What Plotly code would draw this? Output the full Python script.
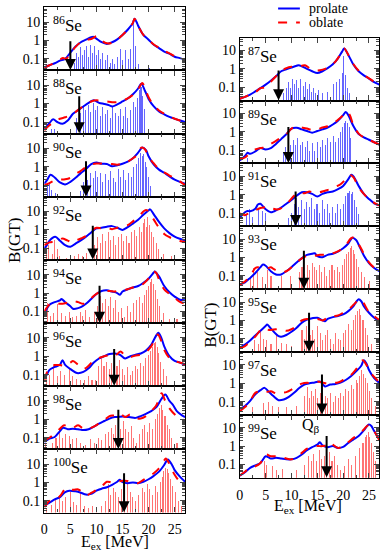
import math
import plotly.graph_objects as go

W, H = 382, 552          # browser window == figure size (page margin removed below)
SERIF = "Liberation Serif, Times New Roman, serif"

# ---------------- data ----------------
LEFT_NUCLEI = [86, 88, 90, 92, 94, 96, 98, 100]
RIGHT_NUCLEI = [87, 89, 91, 93, 95, 97, 99]

# Q_beta energy (MeV) and arrow top (B(GT)) per nucleus
QBETA_E = {86: 5.0, 88: 6.7, 90: 8.0, 92: 9.3, 94: 10.6, 96: 13.4, 98: 14.2, 100: 15.3,
           87: 7.5, 89: 9.4, 91: 10.8, 93: 12.4, 95: 13.4, 97: 15.9, 99: 16.8}
QBETA_TOP = {86: 1.1, 88: 3.0, 90: 2.4, 92: 2.0, 94: 3.0, 96: 3.0, 98: 4.0, 100: 3.8,
             87: 1.0, 89: 2.2, 91: 1.8, 93: 2.8, 95: 3.1, 97: 3.6, 99: 4.3}

PRO_86 = [(0,0.034),(1,0.045),(2,0.058),(3,0.08),(4,0.1),(5,0.22),(6,0.47),(7,0.8),(8,1.1),(9,1.5),(9.5,1.55),(10,1.25),(11,0.8),(12,0.65),(13,0.8),(14,1.15),(15,2.0),(16,3.8),(17,9),(17.3,15),(17.7,10),(18,6.3),(19,2.0),(20,1.1),(21,0.58),(22,0.38),(23,0.25),(24,0.19),(25,0.13),(26,0.11),(27,0.09)]
OBL_86 = [(0,0.034),(1,0.045),(2,0.06),(3,0.09),(3.6,0.11),(4.2,0.1),(5,0.2),(6,0.45),(7,0.8),(8,1.05),(9,1.2),(10,1.7),(10.4,1.6),(11,1.0),(12,0.7),(13,0.75),(14,1.1),(15,2.0),(16,3.8),(17,9),(17.3,15),(17.7,10),(18,6.3),(19,2.0),(20,1.1),(21,0.6),(22,0.4),(23,0.27),(24,0.2),(25,0.14),(26,0.11),(27,0.09)]
SPK_86 = [(5.8,0.06),(6.2,0.2),(6.6,0.12),(7.0,0.45),(7.4,0.15),(7.8,0.3),(8.2,0.5),(8.5,0.12),(8.9,0.55),(9.3,0.2),(9.7,0.5),(10.1,0.15),(10.5,0.3),(10.9,0.1),(11.3,0.2),(11.8,0.08),(12.2,0.15),(12.7,0.06),(13.2,0.1),(13.6,0.05),(14.1,0.12),(14.6,0.35),(15.1,0.08),(15.6,0.3),(16.2,0.1),(16.6,0.35),(17.2,10),(17.5,0.5),(18.2,0.05),(20.3,0.03)]

PRO_88 = [(0,0.039),(1,0.088),(1.7,0.14),(2.5,0.1),(3.5,0.08),(4.5,0.12),(5.5,0.28),(6.5,0.44),(7.5,0.7),(8.5,1.1),(9.5,1.5),(10.5,1.1),(11.5,0.95),(12.5,0.8),(13,0.7),(14,0.9),(15,1.3),(16,1.9),(17,3.2),(18,6.6),(18.6,12),(19.3,5),(20,1.8),(21,0.7),(22,0.38),(23,0.26),(24,0.19),(25,0.15),(26,0.12),(27,0.1)]
OBL_88 = [(0,0.036),(1,0.066),(2,0.11),(3,0.15),(4,0.18),(5,0.23),(6,0.35),(7,0.58),(8,0.95),(9,1.3),(10,1.5),(11,1.4),(12,1.3),(13,1.2),(14,1.2),(15,1.45),(16,1.9),(17,3),(18,6),(18.8,13),(19.4,6),(20,2.2),(21,0.8),(22,0.42),(23,0.28),(24,0.2),(25,0.15),(26,0.12),(27,0.1)]
SPK_88 = [(1.5,0.04),(2.0,0.04),(6.2,0.15),(7.0,0.3),(7.5,0.6),(8.0,0.4),(8.5,0.8),(9.0,0.35),(9.4,1.0),(9.9,0.4),(10.3,0.7),(10.8,0.2),(11.2,0.6),(11.7,0.25),(12.2,0.45),(12.7,0.15),(13.2,0.7),(13.7,0.3),(14.2,0.2),(14.7,0.5),(15.2,0.2),(15.6,0.6),(16.1,0.15),(16.6,0.4),(17.2,1.2),(17.6,0.6),(18.0,2),(18.3,5),(18.6,8),(18.9,2.5),(19.2,0.5)]

PRO_90 = [(0,0.12),(0.5,0.18),(1.2,0.37),(2,0.26),(3,0.14),(4,0.11),(5,0.15),(6,0.25),(7,0.45),(8,0.75),(9,1.4),(10,1.7),(11,1.45),(12,1.4),(13,1.05),(14,1.2),(15,1.45),(16,1.9),(17,2.9),(18,5.8),(18.8,11),(19.5,8),(20,3.7),(21,1.3),(22,0.7),(23,0.47),(24,0.3),(25,0.2),(26,0.15),(27,0.12)]
OBL_90 = [(0,0.1),(1,0.13),(2,0.18),(3,0.2),(4,0.21),(5,0.25),(6,0.4),(7,0.6),(8,0.95),(9,1.3),(10,1.5),(11,1.5),(12,1.5),(13,1.4),(14,1.3),(15,1.5),(16,1.9),(17,2.9),(18,5),(18.6,11),(19.3,9),(20,3.4),(21,1.5),(22,0.75),(23,0.5),(24,0.33),(25,0.24),(26,0.16),(27,0.1)]
SPK_90 = [(0.6,0.1),(1.0,0.15),(1.5,0.06),(2.2,0.04),(7.0,0.05),(7.5,0.15),(8.0,0.4),(8.4,0.2),(8.9,0.5),(9.4,0.25),(9.8,0.6),(10.3,0.3),(10.8,0.5),(11.3,0.15),(11.8,0.4),(12.3,0.2),(12.8,0.6),(13.3,0.25),(13.8,0.15),(14.3,0.8),(14.7,0.3),(15.2,0.7),(15.7,0.2),(16.2,0.5),(16.7,0.3),(17.2,1.0),(17.7,1.5),(18.2,3),(18.5,6),(18.8,4),(19.1,5),(19.4,2),(19.7,1),(20.1,0.3),(20.5,0.1)]

PRO_92 = [(0,0.1),(0.5,0.15),(1,0.26),(2.1,0.42),(3,0.26),(4,0.15),(5,0.12),(6,0.18),(7,0.27),(8,0.43),(9,0.73),(10,1.2),(11,1.3),(12,1.5),(13,1.6),(14,1.3),(15,1.0),(16,1.4),(17,2.2),(18,3.6),(19,6.6),(20,11.5),(20.3,13),(21,7),(22,2.7),(23,1.2),(24,0.67),(25,0.43),(26,0.33),(27,0.27)]
OBL_92 = [(0,0.15),(1,0.21),(2,0.23),(3,0.3),(3.5,0.34),(4.5,0.26),(5.5,0.21),(6,0.26),(7,0.34),(8,0.47),(9,0.9),(10,1.3),(11,1.2),(12,1.3),(13,1.1),(14,1.3),(15,1.45),(16,1.8),(17,2.9),(18,4.8),(19,10),(19.5,12),(20,10),(21,3.6),(22,1.3),(23,0.6),(24,0.4),(25,0.3),(26,0.25),(27,0.22)]
SPK_92 = [(0.4,0.3),(0.8,0.15),(1.6,0.05),(2.0,0.3),(2.6,0.1),(3.0,0.04),(4.3,0.03),(5.8,0.04),(6.6,0.05),(7.4,0.04),(8.1,0.06),(9.6,0.15),(10.2,0.4),(10.8,0.2),(11.3,0.6),(11.8,0.25),(12.3,0.8),(12.8,0.3),(13.3,0.5),(13.8,0.15),(14.3,0.4),(14.8,0.6),(15.3,0.25),(15.8,0.5),(16.3,0.2),(16.8,0.8),(17.3,1.0),(17.8,0.5),(18.3,1.5),(18.7,0.8),(19.0,2.5),(19.3,4),(19.6,1.5),(19.9,5),(20.2,2),(20.6,0.8),(21.0,0.4),(21.5,0.2),(22.0,0.1),(23.0,0.05),(24.5,0.04)]

PRO_94 = [(0,0.08),(0.5,0.14),(1,0.23),(2,0.32),(3,0.4),(3.3,0.48),(4,0.32),(5,0.19),(5.5,0.14),(6,0.14),(7,0.17),(8,0.26),(9,0.48),(10,0.89),(11,1.3),(12,1.4),(13,1.2),(14,1.0),(14.5,0.8),(15,1.2),(16,1.6),(17,2),(18,2.4),(19,3.6),(20,6),(21,13),(21.2,15),(22,8),(23,2.4),(24,1.1),(25,0.64),(26,0.43),(27,0.4)]
OBL_94 = [(0,0.1),(1,0.24),(2,0.3),(3,0.26),(4,0.28),(5,0.35),(5.5,0.38),(6.5,0.32),(7.5,0.26),(8.5,0.38),(9.5,0.7),(10.5,1.1),(11.5,1.2),(12.5,1.3),(13.5,1.2),(14,1.3),(15,1.4),(16,1.6),(17,2),(18,2.2),(19,3.2),(20,6.3),(20.5,10),(21,15),(21.5,12),(22,5.4),(23,1.6),(24,0.9),(25,0.55),(26,0.33),(27,0.27)]
SPK_94 = [(0.6,0.3),(1.2,0.06),(1.9,0.08),(2.5,0.25),(3.3,0.08),(4.1,0.06),(4.8,0.1),(5.5,0.05),(6.2,0.06),(7.0,0.1),(7.3,0.06),(8.0,0.12),(8.8,0.05),(9.6,0.1),(10.3,0.2),(10.8,0.7),(11.3,0.3),(11.8,0.5),(12.3,0.2),(12.8,0.6),(13.3,0.15),(13.8,0.4),(14.3,0.1),(14.8,0.15),(15.4,0.05),(16.0,0.2),(16.6,0.1),(17.2,0.3),(17.8,0.4),(18.3,0.6),(18.8,0.3),(19.2,0.8),(19.6,1.5),(20.0,2.5),(20.4,4),(20.7,6),(21.0,3),(21.3,1.5),(21.7,0.5),(22.2,0.2),(23.0,0.08),(24.0,0.04),(25.5,0.04)]

PRO_96 = [(0,0.06),(0.5,0.1),(1,0.18),(2,0.26),(3,0.34),(3.5,0.6),(4,0.34),(5,0.2),(6,0.13),(6.5,0.12),(7.5,0.14),(8.5,0.22),(9.5,0.45),(10.5,0.75),(11.5,1.0),(12.5,1.3),(13.5,1.4),(14.5,1.2),(15.5,0.75),(16.5,1.0),(17.5,1.2),(18.5,1.4),(19.5,2),(20.5,4.1),(21,7.5),(21.5,14),(21.9,19),(22.5,9),(23,3.4),(24,1),(25,0.55),(26,0.45),(27,0.34)]
OBL_96 = [(0,0.05),(1,0.24),(2,0.33),(3,0.33),(4,0.3),(5,0.45),(5.5,0.55),(6.5,0.34),(7.5,0.2),(8.5,0.3),(9.5,0.6),(10.5,0.8),(11.5,1.0),(12.5,1.1),(13.5,1.0),(14.6,1.8),(15.5,1.1),(16.5,0.9),(17.5,1.1),(18.5,1.2),(19.5,1.7),(20.5,3.4),(21,6.7),(21.5,13),(21.8,15),(22.5,6),(23,2.2),(24,0.8),(25,0.55),(26,0.45),(27,0.37)]
SPK_96 = [(0.5,0.08),(1.0,0.1),(1.8,0.3),(2.5,0.08),(3.2,0.15),(4.0,0.1),(4.8,0.2),(5.5,0.08),(6.2,0.06),(7.0,0.05),(7.8,0.05),(8.5,0.08),(9.2,0.05),(9.8,0.05),(10.5,0.3),(11.0,0.7),(11.5,0.3),(12.0,0.5),(12.5,0.2),(13.0,0.4),(13.5,0.15),(14.0,0.3),(14.4,0.6),(15.0,0.2),(15.5,0.1),(16.0,0.25),(16.5,0.1),(17.0,0.15),(17.5,0.3),(18.0,0.2),(18.5,0.4),(19.0,0.3),(19.5,0.8),(20.0,1.2),(20.5,2),(20.8,3),(21.1,5),(21.4,6),(21.7,3),(22.0,1.5),(22.4,0.5),(23.0,0.2),(23.5,0.08)]

PRO_98 = [(0,0.06),(1,0.09),(2,0.11),(3,0.23),(3.6,0.35),(4.5,0.29),(5.5,0.31),(6.5,0.29),(7.5,0.26),(8.5,0.29),(9.5,0.4),(10.5,0.59),(11.5,0.81),(12.5,1.1),(13.5,1.33),(14.5,1.4),(15.5,1.4),(16.5,1.3),(17.5,1.2),(18.5,1.5),(19.5,2.0),(20.5,2.8),(21.5,4.6),(22.4,12),(23.2,22),(24,10),(24.6,6.5),(25.5,2.6),(26.4,1.65),(27,1.3)]
OBL_98 = [(0,0.068),(1,0.1),(2,0.17),(3,0.31),(3.8,0.48),(4.5,0.4),(5.5,0.35),(6.5,0.48),(7.5,0.31),(8.5,0.31),(9.5,0.4),(10.5,0.6),(11.5,0.89),(12.5,1.5),(13.5,1.65),(14.5,2.1),(15.5,1.33),(16.5,1.86),(17.5,1.2),(18.5,1.1),(19.5,1.5),(20.5,2.8),(21.4,5.3),(22,12),(22.5,26),(23.2,10),(23.9,4.3),(25.2,1.65),(26.2,1.1),(27,0.8)]
SPK_98 = [(0.3,0.05),(1.6,0.05),(2.3,0.1),(3.0,0.25),(3.5,0.1),(4.2,0.15),(4.8,0.12),(5.5,0.08),(6.3,0.1),(7.0,0.05),(8.0,0.04),(9.0,0.08),(9.7,0.05),(10.5,0.1),(11.0,0.07),(11.8,0.15),(12.4,0.2),(12.9,0.35),(13.4,0.15),(13.8,0.5),(14.2,0.2),(14.7,0.3),(15.2,0.8),(15.7,0.3),(16.2,0.2),(16.7,0.4),(17.2,0.1),(17.7,0.05),(18.3,0.15),(18.8,0.3),(19.3,0.5),(19.8,0.2),(20.3,0.6),(20.8,0.3),(21.3,1),(21.8,2),(22.2,4),(22.5,6),(22.8,3),(23.2,1.5),(23.6,0.5),(24.0,0.3),(24.5,0.1),(25.5,0.05)]

PRO_100 = [(0,0.055),(1,0.08),(2,0.12),(3,0.16),(4,0.3),(4.8,0.36),(6,0.33),(7,0.28),(8,0.22),(9,0.24),(10,0.36),(11,0.46),(12,0.55),(13,0.75),(14,1.1),(14.5,1.4),(15,1.05),(16,0.92),(17,1.0),(18,0.92),(19,1.1),(20,1.5),(21,2.3),(22,3.9),(23,9),(23.7,18),(24.5,9),(25,4.7),(26,2.1),(27,1.1)]
OBL_100 = [(0,0.045),(1,0.1),(2,0.13),(3,0.18),(4,0.45),(4.7,0.5),(5.5,0.4),(6.5,0.42),(7.3,0.3),(8,0.2),(9,0.27),(10,0.4),(11,0.6),(12,1.1),(13,1.0),(14,1.1),(15,1.25),(16,1.2),(17,0.92),(18,0.92),(19,1.4),(20,2.1),(21,3.2),(22,5.9),(23,16),(23.3,20),(24,10),(25,2.6),(26,1.1),(27,0.75)]
SPK_100 = [(0.4,0.04),(1.5,0.06),(2.2,0.12),(3.0,0.2),(3.6,0.1),(4.2,0.15),(5.0,0.3),(5.6,0.08),(6.3,0.06),(7.0,0.25),(7.8,0.05),(8.5,0.04),(9.3,0.05),(10.0,0.04),(11.0,0.05),(11.8,0.1),(12.3,0.8),(12.8,0.2),(13.3,0.5),(13.8,0.3),(14.3,0.15),(14.8,0.4),(15.5,0.2),(16.0,1.2),(16.5,0.3),(17.0,0.15),(17.5,0.1),(18.2,0.2),(18.8,0.5),(19.2,0.3),(19.8,0.8),(20.3,0.4),(20.8,0.2),(21.3,0.6),(21.8,0.3),(22.3,1),(22.7,2),(23.0,4),(23.3,6),(23.6,5),(23.9,3),(24.3,1.5),(24.7,0.6),(25.2,0.3),(25.8,0.1),(26.3,0.05)]

PRO_87 = [(0,0.024),(1,0.03),(2,0.04),(3,0.06),(4,0.09),(5,0.14),(6,0.23),(7,0.4),(8,0.75),(9,0.95),(10,1.2),(11,1.5),(11.4,1.6),(12,1.4),(13,1.0),(14,0.75),(15,0.6),(16,0.75),(17,1.1),(18,1.8),(19,3.8),(19.8,8.8),(20.2,13),(21,5.8),(22,1.7),(23,0.75),(24,0.45),(25,0.3),(26,0.19),(27,0.14)]
OBL_87 = [(0,0.024),(1,0.03),(2,0.04),(3,0.054),(4,0.09),(5,0.1),(6,0.2),(7,0.4),(8,0.75),(9,1.1),(10,1.3),(11,1.3),(12,1.5),(12.6,1.6),(13.5,1.1),(14.5,0.85),(15.5,0.85),(16.5,1.0),(17.5,1.5),(18.5,2.5),(19.5,6.5),(20.2,13),(21,5.8),(22,1.8),(23,0.8),(24,0.47),(25,0.31),(26,0.2),(27,0.14)]
SPK_87 = [(8.5,0.05),(9.0,0.1),(9.4,0.2),(9.8,0.1),(10.2,0.3),(10.6,0.15),(11.0,0.25),(11.4,0.1),(11.8,0.3),(12.2,0.12),(12.6,0.2),(13.0,0.08),(13.4,0.15),(13.8,0.06),(14.2,0.1),(14.7,0.05),(15.2,0.07),(16.0,0.05),(17.0,0.06),(18.0,0.15),(18.6,0.2),(19.3,0.3),(19.9,0.6),(20.1,5),(20.4,0.5),(20.8,0.1),(21.2,0.05)]

PRO_89 = [(0,0.028),(1,0.048),(1.5,0.072),(2,0.063),(3,0.085),(4,0.13),(5,0.11),(6,0.13),(7,0.22),(8,0.4),(9,0.74),(10,1.5),(11,1.67),(12,1.35),(13,1.1),(14,0.9),(15,1.1),(16,1.35),(17,1.7),(18,2.5),(19,4),(20,8),(20.5,12),(21,8),(21.5,4),(22,2),(23,0.75),(24,0.5),(25,0.37),(26,0.27),(27,0.2)]
OBL_89 = [(0,0.032),(1,0.04),(2,0.072),(3,0.11),(4,0.13),(5,0.145),(6,0.22),(7,0.32),(8,0.5),(9,0.74),(10,1.5),(11,1.9),(12,1.7),(13,1.5),(14,1.25),(15,1.35),(16,1.7),(17,2),(18,2.8),(19,4.5),(20,8),(20.7,12),(21.3,8),(22,2.2),(23,0.8),(24,0.5),(25,0.37),(26,0.27),(27,0.2)]
SPK_89 = [(1.5,0.04),(8.4,0.08),(8.8,0.15),(9.3,0.3),(9.8,0.2),(10.3,0.4),(10.8,0.2),(11.2,0.5),(11.7,0.2),(12.1,0.3),(12.6,0.15),(13.0,0.35),(13.5,0.1),(14.0,0.25),(14.5,0.1),(15.0,0.3),(15.5,0.15),(16.0,0.4),(16.5,0.2),(17.0,0.5),(17.5,0.3),(18.0,0.6),(18.5,0.3),(19.0,0.5),(19.5,1.0),(19.9,2),(20.2,3),(20.5,4),(20.8,3),(21.1,2),(21.4,0.5)]

PRO_91 = [(0,0.056),(1,0.11),(1.5,0.13),(2,0.125),(3,0.17),(3.5,0.29),(4,0.32),(4.5,0.23),(5,0.16),(6,0.11),(6.5,0.12),(7,0.14),(8,0.2),(9,0.32),(10,0.52),(11,0.88),(12,1.35),(13,1.35),(14,1.1),(15,0.8),(16,1.1),(17,1.35),(18,1.5),(19,2),(20,3),(21,7),(21.6,12),(22,10),(23,3),(24,1.1),(25,0.58),(26,0.34),(27,0.26)]
OBL_91 = [(0,0.095),(1,0.077),(2,0.11),(3,0.14),(4,0.19),(5,0.21),(5.5,0.23),(6.5,0.17),(7.5,0.16),(8.5,0.23),(9.5,0.42),(10.5,0.88),(11.5,1.35),(12.5,1.2),(13.5,1.5),(14.5,1.2),(15.5,1.35),(16.5,1.65),(17.5,2),(18.5,2.7),(19.5,3.7),(20.5,7),(21.3,12),(22,8.7),(23,2.5),(24,1.1),(25,0.58),(26,0.36),(27,0.26)]
SPK_91 = [(1.3,0.08),(1.8,0.15),(2.5,0.06),(3.5,0.15),(4.3,0.12),(5.0,0.1),(9.3,0.05),(10.0,0.1),(10.5,0.3),(11.0,0.6),(11.4,0.2),(11.9,0.5),(12.4,0.15),(12.9,0.4),(13.4,0.2),(13.9,0.6),(14.4,0.15),(14.9,0.3),(15.4,0.1),(15.9,0.5),(16.4,0.15),(16.9,0.3),(17.4,0.1),(17.9,0.2),(18.4,0.1),(18.9,0.3),(19.5,0.15),(20.0,0.3),(20.5,0.8),(20.9,1.2),(21.2,1.5),(21.5,1.0),(21.8,1.3),(22.1,0.5),(22.5,0.2),(23.0,0.08)]

PRO_93 = [(0,0.034),(1,0.045),(2,0.078),(3,0.145),(4,0.3),(4.5,0.42),(5,0.36),(6,0.18),(7,0.12),(7.5,0.115),(8,0.12),(9,0.18),(10,0.3),(11,0.54),(12,0.93),(13,1.4),(14,1.6),(14.5,1.7),(15,1.2),(16,1.05),(17,1.4),(18,1.6),(19,2.1),(20,3.2),(21,5.8),(21.8,12),(22.5,9),(23,5),(24,1.3),(25,0.5),(26,0.27),(27,0.18)]
OBL_93 = [(0,0.034),(1,0.05),(2,0.095),(3,0.27),(3.5,0.3),(4.5,0.24),(5.5,0.27),(6,0.3),(6.5,0.24),(7.5,0.18),(8.5,0.16),(9.5,0.22),(10.5,0.4),(11.5,0.7),(12.5,1.1),(13.5,1.3),(14.5,1.25),(15.5,1.4),(16.5,1.4),(17.5,1.55),(18.5,1.9),(19.5,2.6),(20.5,4.5),(21.5,11),(22,12),(22.7,7),(23.5,3),(24,1.6),(25,0.55),(26,0.28),(27,0.18)]
SPK_93 = [(2.0,0.08),(2.6,0.25),(3.3,0.15),(4.3,0.08),(5.3,0.2),(6.0,0.1),(8.0,0.1),(9.8,0.1),(11.5,0.15),(12.0,0.3),(12.5,0.12),(13.0,0.4),(13.5,0.2),(14.0,0.5),(14.4,0.3),(14.8,0.2),(15.3,0.4),(15.8,0.15),(16.3,0.3),(16.8,0.1),(17.3,0.2),(17.8,0.4),(18.3,0.2),(18.8,0.3),(19.3,0.15),(19.8,0.4),(20.3,0.8),(20.7,1.5),(21.0,2),(21.3,3),(21.6,4),(21.9,2.5),(22.2,1.5),(22.6,0.8),(23.0,0.3),(23.5,0.15),(24.0,0.08),(25.0,0.05)]

PRO_95 = [(0,0.032),(1,0.048),(2,0.08),(3,0.15),(4,0.27),(5,0.5),(5.3,0.6),(6,0.36),(7,0.18),(7.5,0.14),(8,0.13),(9,0.16),(10,0.24),(11,0.4),(12,0.75),(13,1.1),(14,1.3),(15,1.4),(16,1.0),(16.5,0.9),(17,1.2),(18,1.5),(19,1.7),(20,2.1),(21,3.2),(22,6),(22.5,10),(23,14),(23.5,11),(24,6),(25,2.6),(26,1.4),(27,0.93)]
OBL_95 = [(0,0.03),(1,0.04),(2,0.07),(3,0.13),(4,0.3),(4.5,0.36),(5,0.33),(6,0.3),(7,0.33),(8,0.33),(9,0.27),(10,0.33),(11,0.5),(12,1.0),(13,1.2),(14,1.05),(15,1.2),(16,1.0),(17,1.4),(18,1.7),(19,1.85),(20,2.6),(21,3.8),(22,7),(23,13),(23.5,13),(24,8.5),(25,2.8),(26,1.7),(27,1.05)]
SPK_95 = [(2.8,0.08),(3.5,0.05),(4.0,0.3),(4.6,0.1),(5.2,0.08),(6.0,0.05),(7.0,0.15),(8.0,0.06),(9.0,0.05),(10.0,0.04),(12.0,0.3),(12.4,0.1),(12.8,0.5),(13.2,0.2),(13.6,0.15),(14.0,0.3),(14.5,0.1),(15.0,0.5),(15.5,0.2),(16.0,0.08),(16.5,0.15),(17.0,0.3),(17.5,0.1),(18.0,0.05),(18.5,0.2),(19.0,0.1),(19.5,0.08),(20.0,0.2),(20.5,0.3),(21.0,0.6),(21.5,0.3),(22.0,1),(22.4,2),(22.8,3),(23.1,4),(23.4,2),(23.8,1),(24.2,0.4),(24.7,0.15),(25.5,0.05)]

PRO_97 = [(0,0.04),(1,0.058),(2,0.11),(3,0.25),(4,0.42),(4.8,0.56),(5.5,0.37),(6.5,0.2),(7.5,0.12),(8.5,0.13),(9.5,0.18),(10.5,0.3),(11.5,0.55),(12.5,0.85),(13.5,1.0),(14.5,1.1),(15.5,1.25),(16.5,0.67),(17.5,0.85),(18.5,0.92),(19.5,1.1),(20.5,1.5),(21.5,2.4),(22.5,4.4),(23.5,9),(24,18),(24.5,12),(25,5.3),(26,1.9),(27,1.05)]
OBL_97 = [(0,0.03),(1,0.05),(2,0.11),(3,0.3),(4,0.37),(5,0.33),(6,0.37),(7,0.28),(8,0.3),(9,0.33),(10,0.45),(11,0.68),(12,0.95),(13,1.05),(14,1.0),(15,1.25),(16,1.1),(17,0.95),(18,1.05),(19,1.1),(20,1.5),(21,2.1),(22,3.9),(23,9),(23.8,18),(24.5,10),(25,5.3),(26,2.2),(27,1.15)]
SPK_97 = [(2.5,0.05),(4.5,0.08),(5.5,0.1),(6.3,0.06),(7.5,0.05),(9.0,0.05),(11.0,0.06),(12.5,0.2),(13.0,0.6),(13.4,0.15),(13.8,0.4),(14.2,0.2),(14.6,0.5),(15.0,0.15),(15.5,0.3),(16.0,0.1),(16.5,0.2),(17.0,0.15),(17.5,0.3),(18.0,0.1),(18.5,0.2),(19.0,0.15),(19.5,0.3),(20.0,0.2),(20.5,0.5),(21.0,0.4),(21.5,0.8),(22.0,0.5),(22.5,1.5),(22.8,1),(23.2,2.5),(23.6,5),(23.9,3),(24.2,2),(24.6,1),(25.0,0.4),(25.5,0.15),(26.2,0.06)]

PRO_99 = [(0,0.025),(1,0.038),(2,0.066),(3,0.09),(4,0.12),(5,0.28),(5.5,0.25),(6,0.21),(7,0.23),(8,0.21),(9,0.19),(10,0.19),(11,0.23),(12,0.35),(13,0.6),(14,0.88),(15,1.2),(15.5,1.6),(16,1.1),(17,0.88),(18,1.0),(19,0.8),(20,0.9),(21,1.5),(22,2.3),(23,3.5),(24,7.2),(25,15),(25.5,12),(26,6.6),(27,2.3)]
OBL_99 = [(0,0.025),(1,0.04),(2,0.07),(3,0.08),(4,0.12),(5,0.35),(6,0.28),(7,0.28),(8,0.26),(9,0.21),(10,0.19),(11,0.26),(12,0.43),(13,0.72),(14,0.88),(15,1.0),(16,1.0),(17,1.2),(17.5,1.6),(18,1.2),(19,0.8),(20,1.0),(21,1.65),(22,2.8),(23,4.3),(24,8),(24.8,13.4),(25.5,10),(26,6.6),(27,2.1)]
SPK_99 = [(4.8,0.15),(5.2,0.1),(6.3,0.08),(7.0,0.05),(8.2,0.06),(11.0,0.05),(12.5,0.1),(13.3,0.3),(13.8,0.15),(14.3,0.4),(14.8,0.15),(15.3,0.6),(15.8,0.2),(16.3,0.3),(16.8,0.1),(17.3,0.5),(17.8,0.15),(18.3,0.3),(18.8,0.1),(19.5,0.05),(20.3,0.08),(21.0,0.2),(21.5,0.1),(22.3,0.3),(23.2,0.8),(23.8,1.5),(24.2,3),(24.5,4),(24.8,6),(25.1,3),(25.4,1.5),(25.8,0.5),(26.3,0.15)]

X_TICKS = [0, 5, 10, 15, 20, 25]
Y_TICKS = [0.1, 1, 10]
Y_TICKTEXT = ["0.1", "1", "10"]
LEGEND_NAMES = ["prolate", "oblate"]

# lookup tables built from the named lists
PRO = {n: globals()[f"PRO_{n}"] for n in LEFT_NUCLEI + RIGHT_NUCLEI}
OBL = {n: globals()[f"OBL_{n}"] for n in LEFT_NUCLEI + RIGHT_NUCLEI}
SPK = {n: globals()[f"SPK_{n}"] for n in LEFT_NUCLEI + RIGHT_NUCLEI}


# ---------------- layout geometry (window pixels -> paper) ----------------
def px(x):
    return x / W


def py(y):
    return 1 - y / H


COLS = {
    "L": dict(nuclei=LEFT_NUCLEI, x0=40.7, x1=183.0, top=7.3, step=63.15, yr=[-1.63, 1.80]),
    "R": dict(nuclei=RIGHT_NUCLEI, x0=238.3, x1=379.3, top=37.7, step=62.86, yr=[-1.72, 1.70]),
}

minor_y = [v * 10 ** d for d in (-2, -1, 0, 1) for v in range(2, 10)]
minor_x = [2.5, 7.5, 12.5, 17.5, 22.5]

BLUE = "#0000ff"
RED = "#ff0000"

fig = go.Figure()
layout = dict(
    width=W, height=H, margin=dict(l=0, r=0, t=0, b=0, pad=0),
    paper_bgcolor="white", plot_bgcolor="rgba(0,0,0,0)",
    barmode="overlay", bargap=0,
    font=dict(family=SERIF, size=13, color="black"),
    showlegend=False,
)
annotations = []
shapes = []

k = 0
for col in ("L", "R"):
    c = COLS[col]
    n_pan = len(c["nuclei"])
    for i, nuc in enumerate(c["nuclei"]):
        k += 1
        sfx = "" if k == 1 else str(k)
        xa, ya = f"x{sfx}", f"y{sfx}"
        top = c["top"] + c["step"] * i
        bot = top + c["step"]
        is_bottom = (i == n_pan - 1)
        layout[f"xaxis{sfx}"] = dict(
            domain=[px(c["x0"]), px(c["x1"])], anchor=ya, range=[0, 27],
            tickvals=X_TICKS, ticks="inside", ticklen=5, tickwidth=1,
            minor=dict(tickvals=minor_x, ticks="inside", ticklen=3, tickwidth=1),
            showticklabels=is_bottom, mirror="allticks", showline=True,
            linecolor="black", linewidth=1.2, showgrid=False, zeroline=False,
            tickfont=dict(family=SERIF, size=14), ticklabelstandoff=4,
        )
        layout[f"yaxis{sfx}"] = dict(
            domain=[max(0.0, py(bot)), min(1.0, py(top))], anchor=xa, type="log", range=c["yr"],
            tickvals=Y_TICKS, ticktext=Y_TICKTEXT, ticks="inside", ticklen=5, tickwidth=1,
            minor=dict(tickvals=minor_y, ticks="inside", ticklen=3, tickwidth=1),
            mirror="allticks", showline=True, linecolor="black", linewidth=1.2,
            showgrid=False, zeroline=False, tickfont=dict(family=SERIF, size=14),
        )
        blue_panel = nuc <= 91
        bar_col = "rgba(0,0,255,0.6)" if blue_panel else "rgba(255,0,0,0.55)"
        fig.add_trace(go.Bar(x=[p[0] for p in SPK[nuc]], y=[p[1] for p in SPK[nuc]], width=0.2,
                             marker=dict(color=bar_col, line=dict(width=0)),
                             xaxis=xa, yaxis=ya, showlegend=False, hoverinfo="skip"))
        fig.add_trace(go.Scatter(x=[p[0] for p in PRO[nuc]], y=[p[1] for p in PRO[nuc]],
                                 mode="lines", line=dict(color=BLUE, width=2, shape="spline", smoothing=0.9),
                                 xaxis=xa, yaxis=ya, name=LEGEND_NAMES[0]))
        fig.add_trace(go.Scatter(x=[p[0] for p in OBL[nuc]], y=[p[1] for p in OBL[nuc]],
                                 mode="lines", line=dict(color=RED, width=2, dash="dash", shape="spline", smoothing=0.9),
                                 xaxis=xa, yaxis=ya, name=LEGEND_NAMES[1]))
        # Q_beta arrow
        annotations.append(dict(
            x=QBETA_E[nuc], y=c["yr"][0] + 0.02, ax=QBETA_E[nuc], ay=math.log10(QBETA_TOP[nuc]),
            xref=xa, yref=ya, axref=xa, ayref=ya, text="", showarrow=True,
            arrowhead=2, arrowsize=1.1, arrowwidth=2, arrowcolor="black"))
        # nucleus label
        annotations.append(dict(
            x=0.045, y=1 - 17 / c["step"], xref=f"{xa} domain", yref=f"{ya} domain",
            text=f"<sup>{nuc}</sup>Se", showarrow=False, xanchor="left", yanchor="middle",
            font=dict(family=SERIF, size=17, color="black")))
        if nuc == 99:
            annotations.append(dict(
                x=13.7, y=math.log10(13), xref=xa, yref=ya, text="Q<sub>β</sub>",
                showarrow=False, xanchor="center", yanchor="middle",
                font=dict(family=SERIF, size=16, color="black")))

# legend (drawn manually to match the reference placement)
for name, color, dash, yy in ((LEGEND_NAMES[0], BLUE, "solid", 8.5), (LEGEND_NAMES[1], RED, "dash", 22.5)):
    shapes.append(dict(type="line", xref="paper", yref="paper", x0=px(277), x1=px(299),
                       y0=py(yy), y1=py(yy), line=dict(color=color, width=2, dash=dash)))
    annotations.append(dict(x=px(306), y=py(yy), xref="paper", yref="paper", text=name,
                            showarrow=False, xanchor="left", yanchor="middle",
                            font=dict(family=SERIF, size=14, color="black")))

# axis titles
annotations += [
    dict(x=px(11), y=py(240), xref="paper", yref="paper", text="B(GT)", textangle=-90,
         showarrow=False, xanchor="center", yanchor="middle", font=dict(family=SERIF, size=17)),
    dict(x=px(208), y=py(325), xref="paper", yref="paper", text="B(GT)", textangle=-90,
         showarrow=False, xanchor="center", yanchor="middle", font=dict(family=SERIF, size=17)),
    dict(x=px(112), y=py(531), xref="paper", yref="paper", text="E<sub>ex</sub> [MeV]",
         showarrow=False, xanchor="center", yanchor="top", font=dict(family=SERIF, size=16)),
    dict(x=px(307), y=py(495), xref="paper", yref="paper", text="E<sub>ex</sub> [MeV]",
         showarrow=False, xanchor="center", yanchor="top", font=dict(family=SERIF, size=16)),
]
layout["annotations"] = annotations
layout["shapes"] = shapes
fig.update_layout(**layout)
# remove the browser's default 8px page margin so the figure fills the window exactly
fig.write_html("out.html", config={"displayModeBar": False},
               post_script="document.body.style.margin='0';")
